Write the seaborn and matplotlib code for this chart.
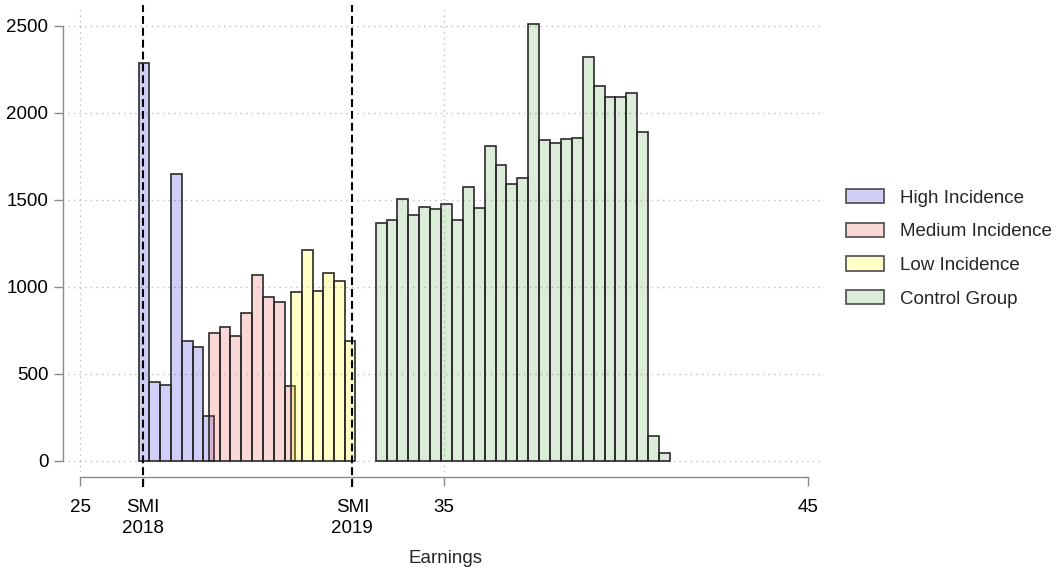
import numpy as np
import pandas as pd
import matplotlib
matplotlib.use("Agg")
import matplotlib.pyplot as plt
from matplotlib.patches import Patch
import seaborn as sns

# Group labels and bin counts (one histogram per group)
groups = ["High Incidence", "Medium Incidence", "Low Incidence", "Control Group"]
high_counts = [2285, 453, 433, 1649, 687, 654, 255]
medium_counts = [736, 767, 716, 848, 1066, 942, 911, 430]
low_counts = [970, 1212, 974, 1081, 1035, 690]
control_counts = [1369, 1384, 1507, 1415, 1461, 1448, 1476, 1386, 1574, 1451,
                  1812, 1703, 1590, 1628, 2510, 1844, 1825, 1852, 1858, 2320,
                  2157, 2094, 2094, 2113, 1890, 142, 42]

# First bin edge and bin width of each group's histogram (earnings units)
bin_starts = [26.612, 28.533, 30.803, 33.118]
bin_widths = [0.2953, 0.2975, 0.2928, 0.2993]

# Minimum wage reference lines and axis ticks
smi_values = [26.733, 32.477]
x_ticks = [25, smi_values[0], smi_values[1], 35, 45]
x_tick_labels = ["25", "SMI\n2018", "SMI\n2019", "35", "45"]
y_ticks = [0, 500, 1000, 1500, 2000, 2500]

fills = [(0.25, 0.25, 0.88), (0.90, 0.24, 0.24), (1.0, 1.0, 0.0), (0.31, 0.63, 0.24)]
fill_alpha = [0.25, 0.20, 0.22, 0.20]
edge = "#2a2a2a"
axis_gray = "#8a8a8a"

sns.set_theme(style="white")
plt.rcParams["font.family"] = ["Liberation Sans", "DejaVu Sans"]
FS = 13.5

W, H = 1054, 571
fig = plt.figure(figsize=(W / 100, H / 100), dpi=100)
ax = fig.add_axes([68 / W, (H - 472) / H, (823 - 68) / W, (472 - 8) / H])

# Dotted reference grid
for yv in y_ticks:
    ax.axhline(yv, color="#bdbdbd", lw=1.0, ls=(0, (1, 3)), zorder=0)
for xv in [25, 35]:
    ax.axvline(xv, color="#bdbdbd", lw=1.0, ls=(0, (1, 3)), zorder=0)

all_counts = [high_counts, medium_counts, low_counts, control_counts]
for counts, start, width, col, a in zip(all_counts, bin_starts, bin_widths, fills, fill_alpha):
    n = len(counts)
    edges = [start + width * i for i in range(n + 1)]
    df = pd.DataFrame({
        "earnings": [(edges[i] + edges[i + 1]) / 2 for i in range(n)],
        "count": counts,
    })
    sns.histplot(data=df, x="earnings", weights="count", bins=edges, color=col,
                 alpha=a, edgecolor=edge, linewidth=1.2, ax=ax, zorder=2)

# Dashed lines at the minimum wage levels
for xv in smi_values:
    ax.axvline(xv, ymin=-0.032, ymax=1.006, color="black", lw=1.5,
               dashes=(3.8, 1.9), clip_on=False, zorder=5)

ax.set_xlim(24.67, 45.40)
ax.set_ylim(-65, 2603.5)

for side in ["top", "right"]:
    ax.spines[side].set_visible(False)
for side in ["left", "bottom"]:
    ax.spines[side].set_position(("outward", 3.6))
    ax.spines[side].set_color(axis_gray)
    ax.spines[side].set_linewidth(1.0)
ax.spines["left"].set_bounds(0, 2500)
ax.spines["bottom"].set_bounds(25, 45)

ax.set_xticks(x_ticks)
ax.set_xticklabels(x_tick_labels, fontsize=FS, linespacing=1.37)
ax.set_yticks(y_ticks)
ax.set_yticklabels([str(v) for v in y_ticks], fontsize=FS)
ax.tick_params(axis="x", direction="out", length=6.5, width=1.0, color=axis_gray,
               pad=9, bottom=True, labelcolor="black")
ax.tick_params(axis="y", direction="out", length=6.5, width=1.0, color=axis_gray,
               pad=4, left=True, labelcolor="black")
ax.set_xlabel("")
ax.set_ylabel("")
ax.grid(False)

fig.text(445.5 / W, (H - 563) / H, "Earnings", ha="center", va="baseline", fontsize=FS)

handles = [Patch(facecolor=matplotlib.colors.to_rgba(c, a), edgecolor="#4a4a4a", linewidth=1.2)
           for c, a in zip(fills, fill_alpha)]
fig.legend(handles, groups, loc="upper left", bbox_to_anchor=(846 / W, (H - 189) / H),
           frameon=False, fontsize=FS, handlelength=2.03, handleheight=0.8,
           handletextpad=0.85, labelspacing=0.85, borderpad=0, borderaxespad=0)

fig.savefig("out.png", dpi=100)
